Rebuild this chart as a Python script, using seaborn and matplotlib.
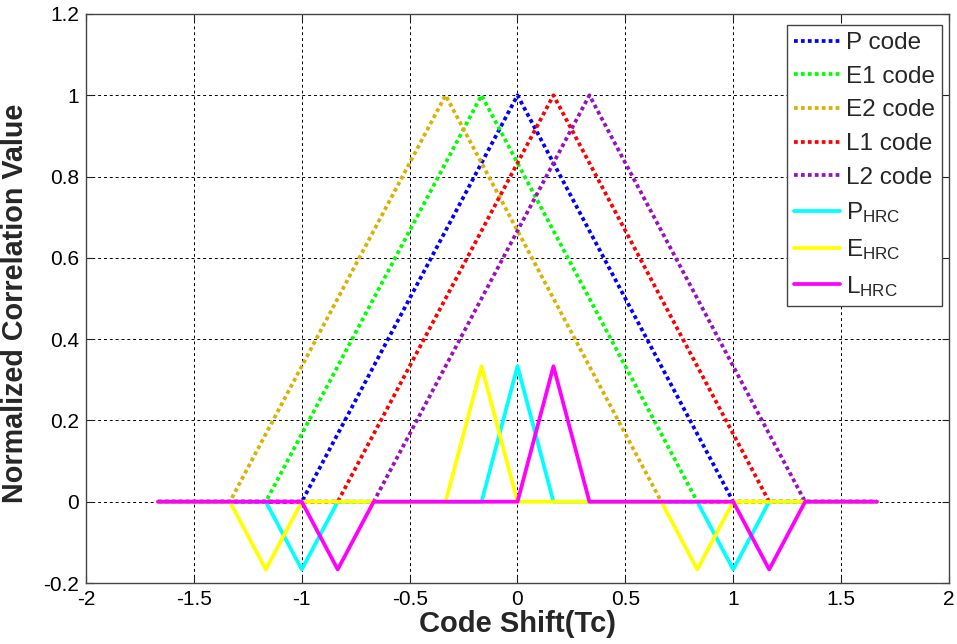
import numpy as np
import pandas as pd
import matplotlib
matplotlib.use("Agg")
import matplotlib.pyplot as plt
import seaborn as sns

# Correlation breakpoints (code shift in chips, normalized value)
t = 1.0 / 6.0
x_p_code = [-10 * t, -1.0, 0.0, 1.0, 10 * t]
y_p_code = [0.0, 0.0, 1.0, 0.0, 0.0]
x_e1_code = [-10 * t, -7 * t, -1 * t, 5 * t, 10 * t]
y_e1_code = [0.0, 0.0, 1.0, 0.0, 0.0]
x_e2_code = [-10 * t, -8 * t, -2 * t, 4 * t, 10 * t]
y_e2_code = [0.0, 0.0, 1.0, 0.0, 0.0]
x_l1_code = [-10 * t, -5 * t, 1 * t, 7 * t, 10 * t]
y_l1_code = [0.0, 0.0, 1.0, 0.0, 0.0]
x_l2_code = [-10 * t, -4 * t, 2 * t, 8 * t, 10 * t]
y_l2_code = [0.0, 0.0, 1.0, 0.0, 0.0]

x_p_hrc = [-10 * t, -7 * t, -6 * t, -5 * t, -1 * t, 0.0, 1 * t, 5 * t, 6 * t, 7 * t, 10 * t]
y_p_hrc = [0.0, 0.0, -t, 0.0, 0.0, 2 * t, 0.0, 0.0, -t, 0.0, 0.0]
x_e_hrc = [-10 * t, -8 * t, -7 * t, -6 * t, -2 * t, -1 * t, 0.0, 4 * t, 5 * t, 6 * t, 10 * t]
y_e_hrc = [0.0, 0.0, -t, 0.0, 0.0, 2 * t, 0.0, 0.0, -t, 0.0, 0.0]
x_l_hrc = [-10 * t, -6 * t, -5 * t, -4 * t, 0.0, 1 * t, 2 * t, 6 * t, 7 * t, 8 * t, 10 * t]
y_l_hrc = [0.0, 0.0, -t, 0.0, 0.0, 2 * t, 0.0, 0.0, -t, 0.0, 0.0]

x_ticks = [-2, -1.5, -1, -0.5, 0, 0.5, 1, 1.5, 2]
x_tick_labels = ["-2", "-1.5", "-1", "-0.5", "0", "0.5", "1", "1.5", "2"]
y_ticks = [-0.2, 0, 0.2, 0.4, 0.6, 0.8, 1.0, 1.2]
y_tick_labels = ["-0.2", "0", "0.2", "0.4", "0.6", "0.8", "1", "1.2"]

sns.set_style("ticks")
plt.rcParams["font.family"] = ["Liberation Sans", "DejaVu Sans"]
plt.rcParams["mathtext.fontset"] = "custom"
plt.rcParams["mathtext.rm"] = "Liberation Sans"
plt.rcParams["mathtext.it"] = "Liberation Sans"

fig = plt.figure(figsize=(9.57, 6.44), dpi=100)
ax = fig.add_axes([0.0899, 0.0947, 0.9017, 0.8836])

series = [
    ("P code", x_p_code, y_p_code, "#0000ff", "dot"),
    ("E1 code", x_e1_code, y_e1_code, "#00ff00", "dot"),
    ("E2 code", x_e2_code, y_e2_code, "#dbb000", "dot"),
    ("L1 code", x_l1_code, y_l1_code, "#ff0000", "dot"),
    ("L2 code", x_l2_code, y_l2_code, "#9a10c0", "dot"),
    (r"P$_{\rm HRC}$", x_p_hrc, y_p_hrc, "#00ffff", "solid"),
    (r"E$_{\rm HRC}$", x_e_hrc, y_e_hrc, "#ffff00", "solid"),
    (r"L$_{\rm HRC}$", x_l_hrc, y_l_hrc, "#ff00ff", "solid"),
]

for label, xs, ys, color, style in series:
    df = pd.DataFrame({"x": xs, "y": ys})
    line_ax = sns.lineplot(data=df, x="x", y="y", ax=ax, sort=False, color=color,
                           label=label, estimator=None)
    ln = line_ax.get_lines()[-1]
    ln.set_linewidth(2.7)
    if style == "dot":
        ln.set_dashes((1.0, 0.85))
        ln.set_dash_capstyle("butt")

ax.set_xlim(-2, 2)
ax.set_ylim(-0.2, 1.2)
ax.set_xticks(x_ticks)
ax.set_xticklabels(x_tick_labels)
ax.set_yticks(y_ticks)
ax.set_yticklabels(y_tick_labels)
ax.tick_params(direction="in", length=5, width=0.8, labelsize=15, colors="#222222",
               top=True, right=True, pad=5)
for lbl in ax.get_xticklabels() + ax.get_yticklabels():
    lbl.set_color("black")
ax.grid(True, color="black", linestyle=(0, (3, 3)), linewidth=0.7)
for sp in ax.spines.values():
    sp.set_color("#444444")
    sp.set_linewidth(1.0)

ax.set_xlabel("Code Shift(Tc)", fontsize=21, fontweight="bold", labelpad=1)
ax.set_ylabel("Normalized Correlation Value", fontsize=20.7, fontweight="bold")
ax.yaxis.set_label_coords(-0.066, 0.491)

leg = ax.legend(loc="upper right", bbox_to_anchor=(0.9925, 0.981), fontsize=17.5,
                handlelength=1.9, handletextpad=0.25, labelspacing=0.48,
                borderpad=0.3, borderaxespad=0.0, fancybox=False, framealpha=1,
                edgecolor="#444444")
leg.get_frame().set_linewidth(1.0)

fig.savefig("out.png", dpi=100)
